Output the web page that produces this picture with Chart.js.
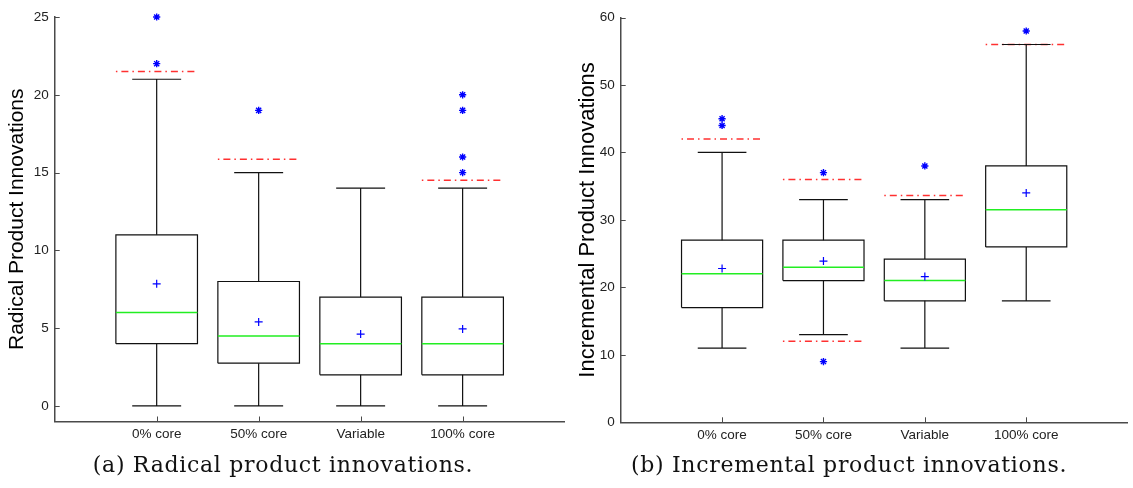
<!DOCTYPE html>
<html>
<head>
<meta charset="utf-8">
<script src="https://cdn.jsdelivr.net/npm/chart.js@4"></script>
<style>
  body { margin: 0; background: #fff; }
  .panel { position: absolute; top: 0; height: 488px; }
  .caption { position: absolute; top: 452px; width: 566px; text-align: center;
             font-family: "DejaVu Serif", serif; font-size: 22px; letter-spacing: 0.7px; color: #111; }
</style>
</head>
<body>
<div class="panel" style="left:0;width:570px"><canvas id="radical"></canvas></div>
<div class="panel" style="left:566px;width:567px"><canvas id="incremental"></canvas></div>
<div class="caption" style="left:0">(a) Radical product innovations.</div>
<div class="caption" style="left:566px">(b) Incremental product innovations.</div>
<script>
const categories = ['0% core', '50% core', 'Variable', '100% core'];

// (a) radical
const radLow = [0, 0, 0, 0];
const radQ1 = [4, 2.75, 2, 2];
const radMedian = [6, 4.5, 4, 4];
const radQ3 = [11, 8, 7, 7];
const radHigh = [21, 15, 14, 14];
const radMean = [7.85, 5.4, 4.62, 4.95];
const radOutliers = [[22, 25], [19], [], [15, 16, 19, 20]];
const radLimits = [[21.5], [15.85], [], [14.5]];
const radTicks = [0, 5, 10, 15, 20, 25];

// (b) incremental
const incLow = [11, 13, 11, 18];
const incQ1 = [17, 21, 18, 26];
const incMedian = [22, 23, 21, 31.5];
const incQ3 = [27, 27, 24.2, 38];
const incHigh = [40, 33, 33, 56];
const incMean = [22.8, 23.9, 21.6, 34];
const incOutliers = [[44, 45], [37, 9], [38], [58]];
const incLimits = [[42], [36, 12], [33.6], [56]];
const incTicks = [0, 10, 20, 30, 40, 50, 60];

const BOX_HALF = 0.4;
const CAP_HALF = 0.24;
const axisColor = '#4a4a4a';
const blue = '#0000ff';

// small tick marks drawn inside the axes, like matlab
const inwardTicks = {
    id: 'inwardTicks',
    afterDraw(chart) {
        const { ctx, chartArea: a, scales: { x, y } } = chart;
        ctx.save();
        ctx.strokeStyle = axisColor;
        ctx.lineWidth = 1;
        ctx.beginPath();
        y.ticks.forEach(t => {
            const py = Math.round(y.getPixelForValue(t.value)) + 0.5;
            ctx.moveTo(a.left, py);
            ctx.lineTo(a.left + 5, py);
        });
        x.ticks.forEach(t => {
            const px = Math.round(x.getPixelForValue(t.value)) + 0.5;
            ctx.moveTo(px, a.bottom);
            ctx.lineTo(px, a.bottom - 5);
        });
        ctx.stroke();
        ctx.restore();
    }
};

function seg(list, x1, y1, x2, y2) {
    list.push({ x: x1, y: y1 }, { x: x2, y: y2 }, { x: x2, y: null });
}

function buildDatasets(low, q1, med, q3, high, mean, outliers, limits) {
    const boxes = [], whiskers = [], medians = [], limitLines = [];
    categories.forEach((_, i) => {
        const c = i + 1;
        boxes.push(
            { x: c - BOX_HALF, y: q1[i] }, { x: c + BOX_HALF, y: q1[i] },
            { x: c + BOX_HALF, y: q3[i] }, { x: c - BOX_HALF, y: q3[i] },
            { x: c - BOX_HALF, y: q1[i] }, { x: c, y: null });
        seg(whiskers, c, q3[i], c, high[i]);
        seg(whiskers, c, low[i], c, q1[i]);
        seg(whiskers, c - CAP_HALF, high[i], c + CAP_HALF, high[i]);
        seg(whiskers, c - CAP_HALF, low[i], c + CAP_HALF, low[i]);
        seg(medians, c - BOX_HALF, med[i], c + BOX_HALF, med[i]);
        limits[i].forEach(v => seg(limitLines, c - BOX_HALF, v, c + BOX_HALF, v));
    });

    const line = { showLine: true, pointRadius: 0, spanGaps: false, clip: false };
    return [
        {
            data: outliers.flatMap((list, i) => list.map(v => ({ x: i + 1, y: v }))),
            pointStyle: 'star', pointRadius: 3.6, borderColor: blue, borderWidth: 1.4,
            backgroundColor: blue, clip: false
        },
        {
            data: mean.map((v, i) => ({ x: i + 1, y: v })),
            pointStyle: 'cross', pointRadius: 4, borderColor: blue, borderWidth: 1.2, clip: false
        },
        { ...line, data: medians, borderColor: '#22ee22', borderWidth: 1.5 },
        { ...line, data: boxes, borderColor: '#111', borderWidth: 1.2 },
        { ...line, data: whiskers, borderColor: '#111', borderWidth: 1.2 },
        { ...line, data: limitLines, borderColor: '#ff3030', borderWidth: 1.5, borderDash: [1.5, 4, 7, 4] }
    ];
}

function makeChart(id, title, titleSize, yMin, yMax, yTicks, padTop, padBottom, padRight, titlePad, datasets) {
    const tickFont = { family: 'Liberation Sans, Arial, sans-serif', size: 13.5 };
    return new Chart(document.getElementById(id), {
        type: 'scatter',
        data: { datasets },
        options: {
            responsive: true,
            maintainAspectRatio: false,
            animation: false,
            layout: { padding: { top: padTop, bottom: padBottom, left: 0, right: padRight } },
            plugins: { legend: { display: false }, tooltip: { enabled: false } },
            scales: {
                x: {
                    type: 'linear', min: 0, max: 5,
                    grid: { display: false, drawTicks: false },
                    border: { display: true, color: axisColor, width: 1.5 },
                    ticks: {
                        color: '#222', font: tickFont, padding: 5,
                        callback: v => categories[v - 1]
                    },
                    afterBuildTicks: s => { s.ticks = categories.map((_, i) => ({ value: i + 1 })); },
                    afterFit: s => { s.height = 25; }
                },
                y: {
                    min: yMin, max: yMax,
                    grid: { display: false, drawTicks: false },
                    border: { display: true, color: axisColor, width: 1.5 },
                    ticks: { color: '#222', font: tickFont, padding: 6 },
                    afterBuildTicks: s => { s.ticks = yTicks.map(v => ({ value: v })); },
                    afterFit: s => { s.width = 54.7; },
                    title: {
                        display: true, text: title, color: '#000',
                        font: { family: 'Liberation Sans, Arial, sans-serif', size: titleSize },
                        padding: { top: titlePad, bottom: 0 }
                    }
                }
            }
        },
        plugins: [inwardTicks]
    });
}

makeChart('radical', 'Radical Product Innovations', 21, -1, 25, radTicks, 17, 41.5, 4, 5,
    buildDatasets(radLow, radQ1, radMedian, radQ3, radHigh, radMean, radOutliers, radLimits));
makeChart('incremental', 'Incremental Product Innovations', 22, 0, 60, incTicks, 17.5, 40.7, 0, 9,
    buildDatasets(incLow, incQ1, incMedian, incQ3, incHigh, incMean, incOutliers, incLimits));
</script>
</body>
</html>
